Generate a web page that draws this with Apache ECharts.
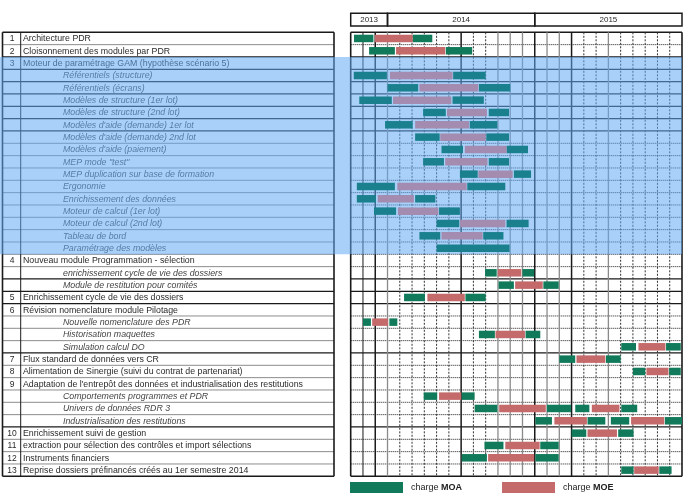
<!DOCTYPE html>
<html>
<head>
<meta charset="utf-8">
<script src="https://cdn.jsdelivr.net/npm/echarts@6/dist/echarts.min.js"></script>
<style>
  html, body { margin: 0; padding: 0; background: #fff; }
  #main { width: 689px; height: 502px; }
</style>
</head>
<body>
<div id="main"></div>
<script>
// table rows
var taskNums = ['1', '2', '3', '', '', '', '', '', '', '', '', '', '', '', '', '', '', '',
  '4', '', '', '5', '6', '', '', '', '7', '8', '9', '', '', '', '10', '11', '12', '13'];
var taskLabels = [
  'Architecture PDR',
  'Cloisonnement des modules par PDR',
  'Moteur de paramétrage GAM (hypothèse scénario 5)',
  'Référentiels (structure)',
  'Référentiels (écrans)',
  'Modèles de structure (1er lot)',
  'Modèles de structure (2nd lot)',
  "Modèles d'aide (demande) 1er lot",
  "Modèles d'aide (demande) 2nd lot",
  "Modèles d'aide (paiement)",
  'MEP mode "test"',
  'MEP duplication sur base de formation',
  'Ergonomie',
  'Enrichissement des données',
  'Moteur de calcul (1er lot)',
  'Moteur de calcul (2nd lot)',
  'Tableau de bord',
  'Paramétrage des modèles',
  'Nouveau module Programmation - sélection',
  'enrichissement cycle de vie des dossiers',
  'Module de restitution pour comités',
  'Enrichissement cycle de vie des dossiers',
  'Révision nomenclature module Pilotage',
  'Nouvelle nomenclature des PDR',
  'Historisation maquettes',
  'Simulation calcul DO',
  'Flux standard de données vers CR',
  'Alimentation de Sinergie (suivi du contrat de partenariat)',
  "Adaptation de l'entrepôt des données et industrialisation des restitutions",
  'Comportements programmes et PDR',
  'Univers de données RDR 3',
  'Industrialisation des restitutions',
  'Enrichissement suivi de gestion',
  'extraction pour sélection des contrôles et import sélections',
  'Instruments financiers',
  'Reprise dossiers préfinancés créés au 1er semestre 2014'
];

// months counted from oct 2013 (0) to dec 2015 (27)
var yearLabels = ['2013', '2014', '2015'];
var yearStart = [0, 3, 15];
var yearEnd = [3, 15, 27];

// rows of the highlighted block (GAM engine)
var highlightRows = [2, 18];

// [row, start month, end month]
var moaBars = [
  [0, 0.27, 1.85], [0, 5.05, 6.65],
  [1, 1.5, 3.6], [1, 7.75, 9.9],
  [3, 0.25, 2.95], [3, 8.35, 11.0],
  [4, 3.0, 5.5], [4, 10.45, 13.0],
  [5, 0.7, 3.35], [5, 8.3, 10.85],
  [6, 5.9, 7.75], [6, 11.25, 12.9],
  [7, 2.8, 5.05], [7, 9.7, 11.95],
  [8, 5.25, 7.25], [8, 11.05, 12.9],
  [9, 7.4, 9.15], [9, 12.7, 14.45],
  [10, 5.9, 7.6], [10, 11.25, 12.9],
  [11, 8.9, 10.35], [11, 13.3, 14.7],
  [12, 0.5, 3.6], [12, 9.5, 12.6],
  [13, 0.5, 2.05], [13, 5.25, 6.9],
  [14, 1.9, 3.7], [14, 7.2, 8.9],
  [15, 7.0, 8.85], [15, 12.7, 14.5],
  [16, 5.6, 7.3], [16, 10.8, 12.45],
  [17, 7.0, 12.95],
  [19, 10.95, 11.9], [19, 14.0, 14.95],
  [20, 12.05, 13.3], [20, 15.7, 16.95],
  [21, 4.35, 6.05], [21, 9.35, 11.0],
  [23, 1.0, 1.65], [23, 3.15, 3.8],
  [24, 10.45, 11.75], [24, 14.25, 15.45],
  [25, 22.05, 23.25], [25, 25.7, 26.9],
  [26, 17.0, 18.3], [26, 20.8, 22.0],
  [27, 23.0, 24.0], [27, 25.95, 26.9],
  [29, 5.95, 7.05], [29, 9.05, 10.1],
  [30, 10.1, 11.95], [30, 16.0, 17.95], [30, 18.3, 19.45], [30, 22.05, 23.35],
  [31, 15.05, 16.4], [31, 19.3, 20.75], [31, 21.2, 22.7], [31, 25.6, 27.0],
  [32, 18.0, 19.2], [32, 21.8, 23.05],
  [33, 10.9, 12.45], [33, 15.45, 16.95],
  [34, 9.05, 11.1], [34, 15.05, 16.95],
  [35, 22.05, 23.05], [35, 25.15, 26.15]
];
var moeBars = [
  [0, 1.98, 5.05], [1, 3.7, 7.7], [3, 3.2, 8.3], [4, 5.6, 10.4], [5, 3.45, 8.2],
  [6, 7.85, 11.1], [7, 5.25, 9.65], [8, 7.3, 11.0], [9, 9.3, 12.7], [10, 7.7, 11.15],
  [11, 10.4, 13.2], [12, 3.8, 9.45], [13, 2.2, 5.15], [14, 3.85, 7.15], [15, 8.9, 12.6],
  [16, 7.4, 10.75], [19, 12.0, 13.9], [20, 13.4, 15.65], [21, 6.25, 9.3], [23, 1.75, 3.05],
  [24, 11.8, 14.2], [25, 23.45, 25.65], [26, 18.4, 20.75], [27, 24.1, 25.9], [29, 7.2, 9.0],
  [30, 12.1, 15.9], [30, 19.65, 21.9], [31, 16.6, 19.25], [31, 22.85, 25.55], [32, 19.3, 21.7],
  [33, 12.6, 15.4], [34, 11.2, 14.95], [35, 23.1, 25.1]
];

// line styles of the grid
var solidRowLines = [0, 2, 3, 4, 5, 6, 7, 8, 20, 21, 22, 26, 32, 36];
var colLineStyle = ['thick', 'thin', 'thick', 'gray', 'dot', 'dot', 'dot', 'dot', 'dot', 'thick',
  'dot', 'dot', 'gray', 'gray', 'gray', 'thick', 'gray', 'gray', 'thick', 'dot', 'dot', 'gray',
  'dot', 'dot', 'dot', 'dot', 'dot', 'thick'];

var FONT = 'Liberation Sans';
var GREEN = '#107a5a', RED = '#c46a6a';
var TEAL = '#1b808e', MAUVE = '#a48bb0';
var nRows = taskLabels.length;

var chart = echarts.init(document.getElementById('main'));

function inBand(row) {
  return row >= highlightRows[0] && row < highlightRows[1];
}

function rowLine(params, api) {
  var b = api.value(0);
  var cs = params.coordSys;
  var y = api.coord([0, b])[1];
  var solid = solidRowLines.indexOf(b) >= 0;
  var edge = b === 0 || b === nRows;
  return {
    type: 'line',
    shape: { x1: cs.x, y1: y, x2: cs.x + cs.width, y2: y },
    style: {
      stroke: '#1a1a1a',
      lineWidth: edge ? 1.6 : (solid ? 1.2 : 1),
      lineDash: solid ? null : [1, 1]
    }
  };
}

function barItem(color, tint) {
  return function (params, api) {
    var row = api.value(0);
    var a = api.coord([api.value(1), row + 0.5]);
    var b = api.coord([api.value(2), row + 0.5]);
    var h = 7.5;
    return {
      type: 'rect',
      shape: { x: a[0], y: a[1] - h / 2, width: b[0] - a[0], height: h },
      style: { fill: inBand(row) ? tint : color }
    };
  };
}

var rowIdx = taskLabels.map(function (_, i) { return i; });
var rowBounds = [];
for (var i = 0; i <= nRows; i++) rowBounds.push(i);

chart.setOption({
  animation: false,
  grid: [
    { left: 2.5, top: 32.3, width: 331.5, height: 444 },
    { left: 350.7, top: 32.3, width: 331.3, height: 444 }
  ],
  xAxis: [
    { gridIndex: 0, type: 'value', min: 0, max: 1, show: false },
    { gridIndex: 1, type: 'value', min: 0, max: 27, show: false }
  ],
  yAxis: [
    { gridIndex: 0, type: 'value', min: 0, max: nRows, inverse: true, show: false },
    { gridIndex: 1, type: 'value', min: 0, max: nRows, inverse: true, show: false }
  ],
  legend: {
    left: 350, top: 482, padding: 0,
    itemWidth: 53, itemHeight: 11, itemGap: 40,
    data: [{ name: 'charge MOA', icon: 'rect' }, { name: 'charge MOE', icon: 'rect' }],
    formatter: function (name) {
      var p = name.split(' ');
      return '{a|' + p[0] + ' }{b|' + p[1] + '}';
    },
    textStyle: {
      rich: {
        a: { fontFamily: FONT, fontSize: 9, color: '#222', padding: [0, 0, 0, 3] },
        b: { fontFamily: FONT, fontSize: 9, color: '#222', fontWeight: 'bold' }
      }
    }
  },
  series: [
    {
      // table labels
      type: 'custom', xAxisIndex: 0, yAxisIndex: 0, z: 1, silent: true,
      data: rowIdx,
      encode: { y: 0 },
      renderItem: function (params, api) {
        var i = params.dataIndex;
        var cs = params.coordSys;
        var y = api.coord([0, i + 0.5])[1];
        var sub = taskNums[i] === '';
        var kids = [{
          type: 'text',
          style: {
            x: cs.x + (sub ? 60.5 : 20.5), y: y + 0.5,
            text: taskLabels[i],
            fontFamily: FONT, fontSize: 8.8,
            fontStyle: sub ? 'italic' : 'normal',
            fill: sub ? '#444' : '#2a2a2a',
            verticalAlign: 'middle'
          }
        }];
        if (!sub) {
          kids.push({
            type: 'text',
            style: {
              x: cs.x + 9.5, y: y + 0.5, text: taskNums[i],
              fontFamily: FONT, fontSize: 8.5, fill: '#2a2a2a',
              align: 'center', verticalAlign: 'middle'
            }
          });
        }
        return { type: 'group', children: kids };
      }
    },
    {
      // table row lines
      type: 'custom', xAxisIndex: 0, yAxisIndex: 0, z: 1, silent: true,
      data: rowBounds, encode: { y: 0 },
      renderItem: rowLine
    },
    {
      // table column lines
      type: 'custom', xAxisIndex: 0, yAxisIndex: 0, z: 1, silent: true,
      data: [0], encode: { y: 0 },
      renderItem: function (params, api) {
        var cs = params.coordSys;
        var xs = [[cs.x, 1.6], [cs.x + 18.2, 1], [cs.x + cs.width, 1.6]];
        return {
          type: 'group',
          children: xs.map(function (p) {
            return {
              type: 'line',
              shape: { x1: p[0], y1: cs.y, x2: p[0], y2: cs.y + cs.height },
              style: { stroke: '#1a1a1a', lineWidth: p[1] }
            };
          })
        };
      }
    },
    {
      // chart row lines
      type: 'custom', xAxisIndex: 1, yAxisIndex: 1, z: 1, silent: true,
      data: rowBounds, encode: { y: 0 },
      renderItem: rowLine
    },
    {
      // chart month lines
      type: 'custom', xAxisIndex: 1, yAxisIndex: 1, z: 1, silent: true,
      data: colLineStyle.map(function (_, k) { return k; }), encode: { x: 0 },
      renderItem: function (params, api) {
        var k = api.value(0);
        var cs = params.coordSys;
        var x = api.coord([k, 0])[0];
        var s = colLineStyle[k];
        var st = { stroke: '#1a1a1a', lineWidth: 1 };
        if (s === 'thick') st.lineWidth = (k === 0 || k === 27) ? 1.6 : 1.5;
        if (s === 'gray') { st.stroke = '#8a8a8a'; st.lineWidth = 1.3; }
        if (s === 'dot') { st.lineDash = [2, 1.5]; st.stroke = '#333'; }
        return {
          type: 'line',
          shape: { x1: x, y1: cs.y, x2: x, y2: cs.y + cs.height },
          style: st
        };
      }
    },
    {
      // year header
      type: 'custom', xAxisIndex: 1, yAxisIndex: 1, z: 1, silent: true,
      data: yearLabels.map(function (_, k) { return [yearStart[k], yearEnd[k]]; }),
      encode: { x: [0, 1] },
      renderItem: function (params, api) {
        var cs = params.coordSys;
        var a = api.coord([api.value(0), 0]);
        var b = api.coord([api.value(1), 0]);
        var top = cs.y - 19;
        return {
          type: 'group',
          children: [{
            type: 'rect',
            shape: { x: a[0], y: top, width: b[0] - a[0], height: 12.7 },
            style: { fill: 'none', stroke: '#1a1a1a', lineWidth: 1.5 }
          }, {
            type: 'text',
            style: {
              x: (a[0] + b[0]) / 2, y: top + 6.6, text: yearLabels[params.dataIndex],
              fontFamily: FONT, fontSize: 8, fill: '#2a2a2a',
              align: 'center', verticalAlign: 'middle'
            }
          }]
        };
      }
    },
    {
      // highlighted block of rows
      type: 'custom', xAxisIndex: 1, yAxisIndex: 1, z: 2, silent: true,
      data: [highlightRows], encode: { y: [0, 1] },
      renderItem: function (params, api) {
        var cs = params.coordSys;
        var y0 = api.coord([0, api.value(0)])[1];
        var y1 = api.coord([0, api.value(1)])[1];
        return {
          type: 'rect',
          shape: { x: 0, y: y0, width: cs.x + cs.width, height: y1 - y0 },
          style: { fill: 'rgba(97,170,242,0.55)' }
        };
      }
    },
    {
      name: 'charge MOA',
      type: 'custom', xAxisIndex: 1, yAxisIndex: 1, z: 3,
      itemStyle: { color: GREEN },
      data: moaBars, encode: { x: [1, 2], y: 0 },
      renderItem: barItem(GREEN, TEAL)
    },
    {
      name: 'charge MOE',
      type: 'custom', xAxisIndex: 1, yAxisIndex: 1, z: 3,
      itemStyle: { color: RED },
      data: moeBars, encode: { x: [1, 2], y: 0 },
      renderItem: barItem(RED, MAUVE)
    }
  ]
});
</script>
</body>
</html>
